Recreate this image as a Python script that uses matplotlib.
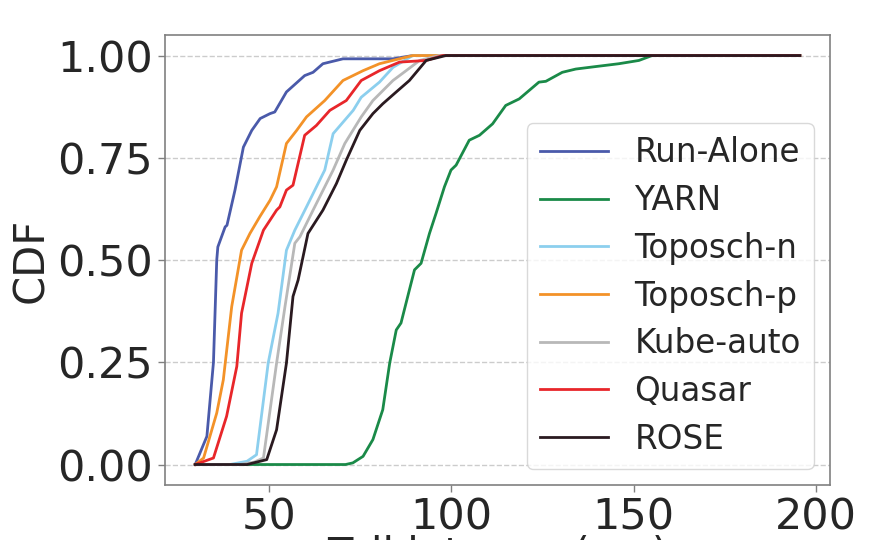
import matplotlib.pyplot as plt

# latency values (x) and CDF (y), one pair of lists per system
run_alone_x = [29.8, 33.0, 34.8, 35.7, 36.0, 38.0, 38.5, 40.7, 43.0, 45.3, 47.6, 50.3, 51.6,
               54.8, 59.8, 62.1, 64.8, 70.3, 84.0, 89.4, 195.5]
run_alone_y = [0.0, 0.069, 0.25, 0.5, 0.532, 0.581, 0.585, 0.671, 0.776, 0.817, 0.846, 0.858, 0.862,
               0.911, 0.951, 0.959, 0.980, 0.992, 0.992, 1.0, 1.0]

yarn_x = [29.8, 71.0, 73.0, 75.8, 78.5, 81.2, 83.1, 84.9, 86.2, 88.5, 89.9, 91.7, 94.0, 95.8,
          98.1, 99.9, 101.3, 104.9, 107.7, 111.3, 114.9, 118.6, 124.0, 125.9, 130.4, 134.1,
          139.5, 145.9, 151.4, 155.0, 195.5]
yarn_y = [0.0, 0.0, 0.004, 0.020, 0.061, 0.134, 0.248, 0.329, 0.346, 0.427, 0.476, 0.492, 0.565, 0.614,
          0.679, 0.720, 0.732, 0.793, 0.805, 0.833, 0.878, 0.894, 0.935, 0.937, 0.959, 0.967,
          0.973, 0.980, 0.988, 1.0, 1.0]

toposch_n_x = [29.8, 39.3, 44.0, 46.6, 49.8, 52.5, 54.8, 57.1, 60.3, 65.3, 67.6, 73.1, 75.3, 80.3,
               84.0, 89.4, 195.5]
toposch_n_y = [0.0, 0.0, 0.008, 0.024, 0.248, 0.370, 0.524, 0.573, 0.630, 0.720, 0.809, 0.866, 0.898,
               0.935, 0.971, 1.0, 1.0]

toposch_p_x = [29.8, 32.1, 35.7, 37.5, 39.8, 42.5, 44.8, 47.5, 50.3, 52.1, 54.8, 57.6, 60.3, 65.3,
               70.3, 75.8, 80.3, 89.4, 195.5]
toposch_p_y = [0.0, 0.016, 0.126, 0.207, 0.386, 0.524, 0.565, 0.606, 0.646, 0.679, 0.785, 0.817, 0.850,
               0.890, 0.939, 0.963, 0.980, 1.0, 1.0]

kube_auto_x = [29.8, 42.0, 46.0, 48.5, 52.1, 54.4, 57.1, 58.5, 62.1, 67.6, 70.8, 75.3, 78.5, 84.0,
               87.6, 91.3, 96.7, 195.5]
kube_auto_y = [0.0, 0.0, 0.006, 0.016, 0.248, 0.386, 0.541, 0.557, 0.622, 0.720, 0.785, 0.850, 0.890,
               0.939, 0.963, 0.988, 1.0, 1.0]

quasar_x = [29.8, 34.8, 38.4, 41.2, 42.5, 45.3, 48.5, 52.1, 53.0, 54.8, 56.6, 59.8, 63.0, 66.7,
            71.2, 75.3, 80.3, 85.8, 93.1, 97.6, 195.5]
quasar_y = [0.0, 0.016, 0.118, 0.240, 0.370, 0.492, 0.573, 0.622, 0.630, 0.671, 0.683, 0.805, 0.829,
            0.866, 0.890, 0.939, 0.963, 0.984, 0.988, 1.0, 1.0]

rose_x = [29.8, 44.0, 49.4, 52.1, 54.8, 56.6, 58.0, 60.7, 64.8, 68.5, 71.2, 74.9, 78.5, 81.2,
          84.9, 88.5, 93.1, 98.5, 195.5]
rose_y = [0.0, 0.0, 0.012, 0.085, 0.248, 0.411, 0.451, 0.565, 0.622, 0.687, 0.744, 0.817, 0.858,
          0.882, 0.911, 0.939, 0.988, 1.0, 1.0]

series = [
    ('Run-Alone', run_alone_x, run_alone_y, '#4a5aaa'),
    ('YARN', yarn_x, yarn_y, '#1a8a48'),
    ('Toposch-n', toposch_n_x, toposch_n_y, '#8ccfee'),
    ('Toposch-p', toposch_p_x, toposch_p_y, '#f39228'),
    ('Kube-auto', kube_auto_x, kube_auto_y, '#b8b8b8'),
    ('Quasar', quasar_x, quasar_y, '#e8262a'),
    ('ROSE', rose_x, rose_y, '#2a1a20'),
]

plt.rcParams['font.family'] = ['DejaVu Sans']
plt.rcParams['text.color'] = '#262626'

fig = plt.figure(figsize=(8.79, 5.4), dpi=100)
ax = fig.add_axes([0.1877, 0.1019, 0.7566, 0.8331])

for nome, xs, ys, cor in series:
    ax.plot(xs, ys, color=cor, lw=2, label=nome)

ax.set_yticks([0, 0.25, 0.5, 0.75, 1.0])
ax.set_yticklabels(['0.00', '0.25', '0.50', '0.75', '1.00'])
ax.set_xticks([50, 100, 150, 200])
ax.tick_params(labelsize=31, colors='#262626', length=5, width=1, color='#808080')
ax.set_ylabel('CDF', fontsize=30, color='#262626')
# o rótulo do eixo x aparece cortado na borda inferior, como na referência
ax.set_xlabel('Tail latency (ms)', fontsize=30, color='#262626', va='top')
ax.xaxis.set_label_coords(0.5, -0.112)
ax.yaxis.grid(True, linestyle='--', color='#cccccc', lw=1)
for s in ax.spines.values():
    s.set_color('#808080')
    s.set_linewidth(1.2)

leg = ax.legend(loc='lower right', fontsize=23.5, frameon=True, handlelength=2.1, labelspacing=0.45)
leg.get_frame().set_edgecolor('#d0d0d0')

fig.savefig('out.png', dpi=100)
